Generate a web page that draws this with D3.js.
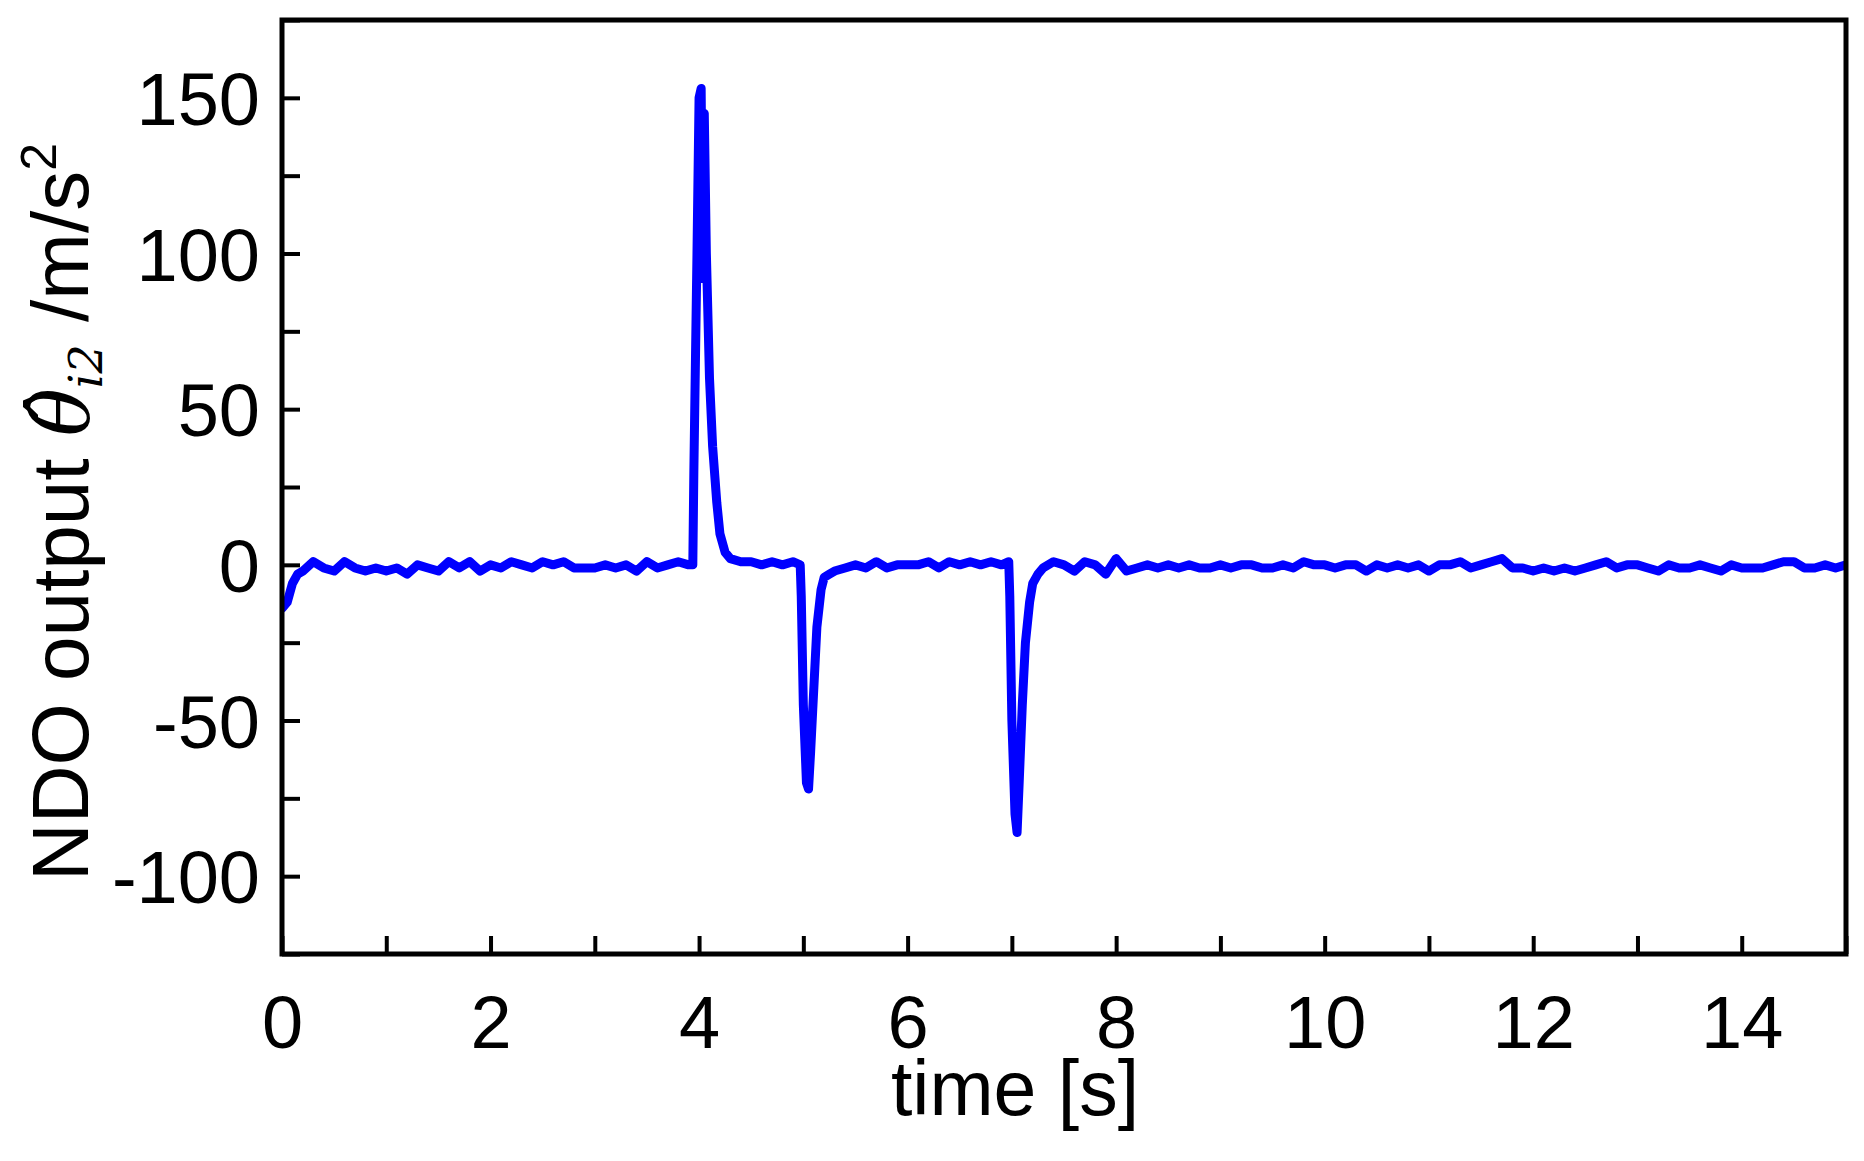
<!DOCTYPE html>
<html><head><meta charset="utf-8">
<script src="https://cdn.jsdelivr.net/npm/d3@7/dist/d3.min.js"></script>
<style>body{margin:0;background:#fff}svg text{font-family:"Liberation Sans",Arial,sans-serif}</style>
</head><body><svg id="c" width="1864" height="1161"></svg>
<script>
const xTicks=[0,2,4,6,8,10,12,14];
const yTicks=[-100,-50,0,50,100,150];
const times=[0,0.05,0.1,0.15,0.2,0.3,0.4,0.5,0.6,0.7,0.8,0.9,1.0,1.1,1.2,1.3,1.4,1.5,1.6,1.7,1.8,1.9,2.0,2.1,2.2,2.3,2.4,2.5,2.6,2.7,2.8,2.9,3.0,3.1,3.2,3.3,3.4,3.5,3.6,3.7,3.8,3.9,3.94,3.95,3.98,4.0,4.02,4.035,4.05,4.07,4.1,4.13,4.17,4.2,4.25,4.3,4.4,4.5,4.6,4.7,4.8,4.9,4.97,4.98,5.0,5.03,5.05,5.07,5.1,5.13,5.17,5.2,5.25,5.3,5.4,5.5,5.6,5.7,5.8,5.9,6.0,6.1,6.2,6.3,6.4,6.5,6.6,6.7,6.8,6.9,6.97,6.98,7.0,7.03,7.05,7.07,7.1,7.13,7.17,7.2,7.25,7.3,7.4,7.5,7.6,7.7,7.8,7.9,8.0,8.1,8.2,8.3,8.4,8.5,8.6,8.7,8.8,8.9,9.0,9.1,9.2,9.3,9.4,9.5,9.6,9.7,9.8,9.9,10.0,10.1,10.2,10.3,10.4,10.5,10.6,10.7,10.8,10.9,11.0,11.1,11.2,11.3,11.4,11.5,11.6,11.7,11.8,11.9,12.0,12.1,12.2,12.3,12.4,12.5,12.6,12.7,12.8,12.9,13.0,13.1,13.2,13.3,13.4,13.5,13.6,13.7,13.8,13.9,14.0,14.1,14.2,14.3,14.4,14.5,14.6,14.7,14.8,14.9,15.0];
const values=[-14,-12,-6,-3,-2,1,-1,-2,1,-1,-2,-1,-2,-1,-3,0,-1,-2,1,-1,1,-2,0,-1,1,0,-1,1,0,1,-1,-1,-1,0,-1,0,-2,1,-1,0,1,0,0,30,100,150,153,92,145,100,60,38,20,10,4,2,1,1,0,1,0,1,0,-10,-45,-70,-72,-60,-40,-20,-8,-4,-3,-2,-1,0,-1,1,-1,0,0,0,1,-1,1,0,1,0,1,0,1,-10,-50,-80,-86,-70,-45,-25,-12,-6,-3,-1,1,0,-2,1,0,-3,2,-2,-1,0,-1,0,-1,0,-1,-1,0,-1,0,0,-1,-1,0,-1,1,0,0,-1,0,0,-2,0,-1,0,-1,0,-2,0,0,1,-1,0,1,2,-1,-1,-2,-1,-2,-1,-2,-1,0,1,-1,0,0,-1,-2,0,-1,-1,0,-1,-2,0,-1,-1,-1,0,1,1,-1,-1,0,-1,0,0,-1,-1];
const svg=d3.select("#c");
const L=282,R=1846,T=20,B=954;
const x=d3.scaleLinear().domain([0,15]).range([L,R]);
const y=d3.scaleLinear().domain([-125,175]).range([B,T]);
const data=times.map((t,i)=>[t,values[i]]);
svg.append("defs").append("clipPath").attr("id","cp").append("rect").attr("x",L).attr("y",T).attr("width",R-L).attr("height",B-T);
svg.append("path").datum(data).attr("clip-path","url(#cp)").attr("fill","none").attr("stroke","#0000ff").attr("stroke-width",9).attr("stroke-linejoin","round").attr("stroke-linecap","round")
 .attr("d",d3.line().x(d=>x(d[0])).y(d=>y(d[1])));
const tl=18;
const gx=svg.append("g").attr("transform",`translate(0,${B})`).call(d3.axisBottom(x).tickValues(d3.range(0,16,1)).tickSize(-tl).tickFormat(d=>xTicks.includes(d)?d:""));
const gy=svg.append("g").attr("transform",`translate(${L},0)`).call(d3.axisLeft(y).tickValues(d3.range(-125,176,25)).tickSize(-tl).tickFormat(d=>yTicks.includes(d)?d:""));
[gx,gy].forEach(g=>{g.select(".domain").remove();g.selectAll("line").attr("stroke","#000").attr("stroke-width",4);g.selectAll("text").attr("font-size",74).attr("fill","#000");});
gx.selectAll("text").attr("y",38).attr("dy","0.75em");
gy.selectAll("text").attr("x",-22).attr("dy","0.36em");
svg.append("rect").attr("x",L).attr("y",T).attr("width",R-L).attr("height",B-T).attr("fill","none").attr("stroke","#000").attr("stroke-width",5);
svg.append("text").attr("x",1015).attr("y",1115).attr("text-anchor","middle").attr("font-size",77).text("time [s]");
const yl=svg.append("text").attr("transform",`translate(88,${(T+B)/2+25}) rotate(-90)`).attr("text-anchor","middle").attr("font-size",80);
yl.append("tspan").text("NDO output  ");
yl.append("tspan").attr("font-family","DejaVu Serif").attr("font-style","italic").text("θ̂");
yl.append("tspan").attr("font-family","DejaVu Serif").attr("font-style","italic").attr("font-size",46).attr("dy",14).text("i2");
yl.append("tspan").attr("dy",-14).text(" /m/s");
yl.append("tspan").attr("font-size",50).attr("dy",-32).text("2");
</script></body></html>
